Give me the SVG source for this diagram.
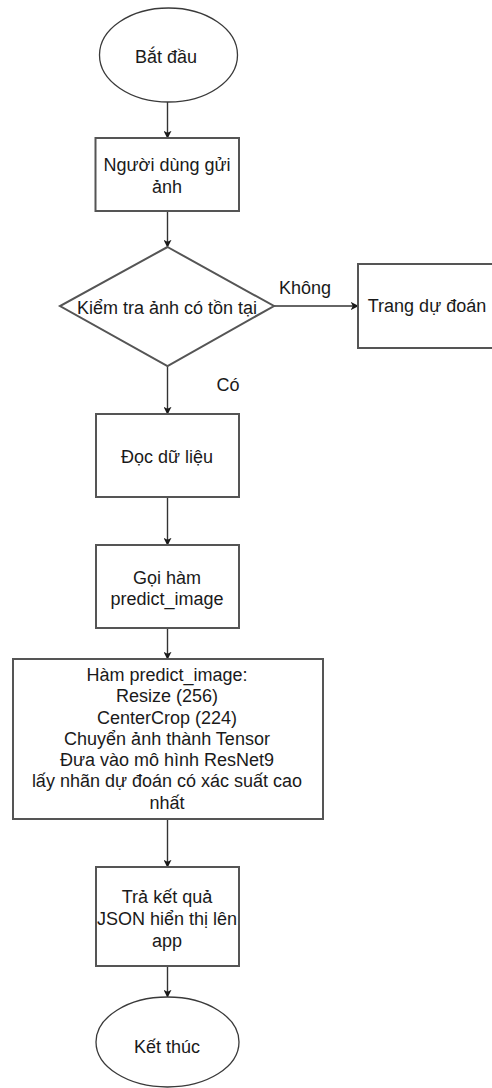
<svg xmlns="http://www.w3.org/2000/svg" width="492" height="1088" viewBox="0 0 492 1088">
  <defs>
    <style>
      .t { font-family: "Liberation Sans", Arial, sans-serif; font-size: 18px; fill: #1a1a1a; text-anchor: middle; }
      .box { fill: #ffffff; stroke: #555555; stroke-width: 2; }
      .term { fill: #ffffff; stroke: #3a3a3a; stroke-width: 1.3; }
      .edge { fill: none; stroke: #333333; stroke-width: 1.4; }
    </style>
    <marker id="arrow" viewBox="0 0 10 10" refX="9" refY="5" markerWidth="8" markerHeight="8" markerUnits="userSpaceOnUse" orient="auto">
      <path d="M0,0 L10,5 L0,10 L2.5,5 Z" fill="#1a1a1a"/>
    </marker>
  </defs>
  <rect width="492" height="1088" fill="#ffffff"/>

  <!-- connectors -->
  <g id="connectors">
    <line class="edge" x1="167.5" y1="102" x2="167.5" y2="138" marker-end="url(#arrow)"/>
    <line class="edge" x1="167.5" y1="211" x2="167.5" y2="247" marker-end="url(#arrow)"/>
    <line class="edge" x1="274" y1="306" x2="358" y2="306" marker-end="url(#arrow)"/>
    <line class="edge" x1="167.5" y1="366" x2="167.5" y2="414" marker-end="url(#arrow)"/>
    <line class="edge" x1="167.5" y1="497" x2="167.5" y2="545" marker-end="url(#arrow)"/>
    <line class="edge" x1="167.5" y1="628" x2="167.5" y2="659" marker-end="url(#arrow)"/>
    <line class="edge" x1="167.5" y1="819" x2="167.5" y2="867" marker-end="url(#arrow)"/>
    <line class="edge" x1="167.5" y1="966" x2="167.5" y2="997" marker-end="url(#arrow)"/>
    <text class="t" x="305" y="294">Không</text>
    <text class="t" x="228" y="391">Có</text>
  </g>

  <g id="start">
    <ellipse class="term" cx="168.5" cy="55" rx="69" ry="47"/>
    <text class="t" x="166" y="63">Bắt đầu</text>
  </g>

  <g id="upload">
    <rect class="box" x="95.5" y="138" width="143.5" height="73"/>
    <text class="t" x="167" y="171">Người dùng gửi</text>
    <text class="t" x="167" y="193">ảnh</text>
  </g>

  <g id="check">
    <polygon class="box" points="167.5,247 274,306 167.5,366 60,306"/>
    <text class="t" x="167" y="314">Kiểm tra ảnh có tồn tại</text>
  </g>

  <g id="predict-page">
    <rect class="box" x="358" y="264" width="150" height="84"/>
    <text class="t" x="427" y="312">Trang dự đoán</text>
  </g>

  <g id="read">
    <rect class="box" x="96" y="414" width="143" height="83"/>
    <text class="t" x="167" y="463">Đọc dữ liệu</text>
  </g>

  <g id="call">
    <rect class="box" x="96" y="545" width="143" height="83"/>
    <text class="t" x="167" y="584">Gọi hàm</text>
    <text class="t" x="167" y="605">predict_image</text>
  </g>

  <g id="predict-fn">
    <rect class="box" x="13" y="659" width="310" height="160"/>
    <text class="t" x="167" y="681">Hàm predict_image:</text>
    <text class="t" x="167" y="702">Resize (256)</text>
    <text class="t" x="167" y="723.5">CenterCrop (224)</text>
    <text class="t" x="167" y="744.5">Chuyển ảnh thành Tensor</text>
    <text class="t" x="167" y="766">Đưa vào mô hình ResNet9</text>
    <text class="t" x="167" y="787">lấy nhãn dự đoán có xác suất cao</text>
    <text class="t" x="167" y="808.5">nhất</text>
  </g>

  <g id="result">
    <rect class="box" x="96" y="867" width="143" height="99"/>
    <text class="t" x="167" y="903">Trả kết quả</text>
    <text class="t" x="167" y="925">JSON hiển thị lên</text>
    <text class="t" x="167" y="947">app</text>
  </g>

  <g id="end">
    <ellipse class="term" cx="167.5" cy="1042" rx="71.5" ry="45"/>
    <text class="t" x="167" y="1053">Kết thúc</text>
  </g>
</svg>
